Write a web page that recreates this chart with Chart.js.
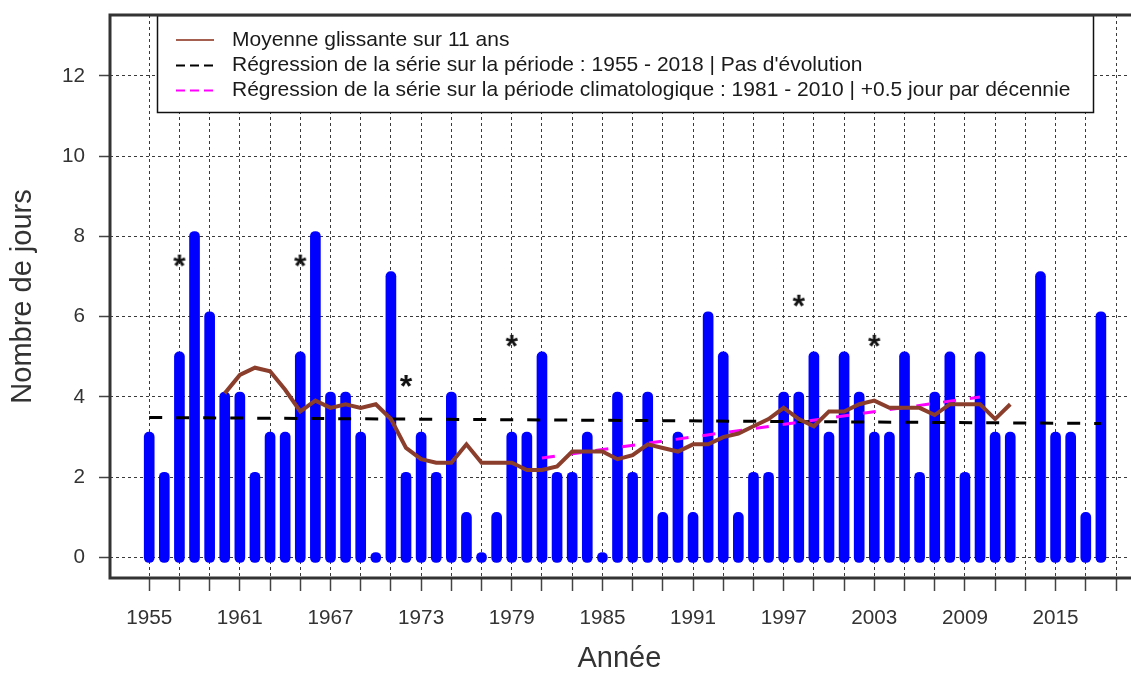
<!DOCTYPE html>
<html><head><meta charset="utf-8">
<script src="https://cdn.jsdelivr.net/npm/chart.js@4.4.1/dist/chart.umd.min.js"></script>
<style>html,body{margin:0;padding:0;background:#fff;overflow:hidden}#w{width:1131px;height:673px;position:relative}</style>
</head><body><div id="w"><canvas id="c"></canvas></div>
<script>
// ---- Data ----
const years = [1955,1956,1957,1958,1959,1960,1961,1962,1963,1964,1965,1966,1967,1968,1969,1970,1971,1972,1973,1974,1975,1976,1977,1978,1979,1980,1981,1982,1983,1984,1985,1986,1987,1988,1989,1990,1991,1992,1993,1994,1995,1996,1997,1998,1999,2000,2001,2002,2003,2004,2005,2006,2007,2008,2009,2010,2011,2012,2013,2014,2015,2016,2017,2018];
const jours = [3,2,5,8,6,4,4,2,3,3,5,8,4,4,3,0,7,2,3,2,4,1,0,1,3,3,5,2,2,3,0,4,2,4,1,3,1,6,5,1,2,2,4,4,5,3,5,4,3,3,5,2,4,5,2,5,3,3,null,7,3,3,1,6];
const maYears = [1960,1961,1962,1963,1964,1965,1966,1967,1968,1969,1970,1971,1972,1973,1974,1975,1976,1977,1978,1979,1980,1981,1982,1983,1984,1985,1986,1987,1988,1989,1990,1991,1992,1993,1994,1995,1996,1997,1998,1999,2000,2001,2002,2003,2004,2005,2006,2007,2008,2009,2010,2011,2012];
const maValues = [4.09,4.55,4.73,4.64,4.18,3.64,3.91,3.73,3.82,3.73,3.82,3.45,2.73,2.45,2.36,2.36,2.82,2.36,2.36,2.36,2.18,2.18,2.27,2.64,2.64,2.64,2.45,2.55,2.82,2.73,2.64,2.82,2.82,3.00,3.09,3.27,3.45,3.73,3.45,3.27,3.64,3.64,3.82,3.91,3.73,3.73,3.73,3.55,3.82,3.82,3.82,3.45,3.82];
const regAllYears = [1955, 2018];
const regAllValues = [3.49, 3.34];
const regClimYears = [1981, 2010];
const regClimValues = [2.48, 4.00];
const starYears = [1957, 1965, 1972, 1979, 1998, 2003];
const starValues = [7.4, 7.4, 4.4, 5.4, 6.4, 5.4];
const xTickYears = [1955,1957,1959,1961,1963,1965,1967,1969,1971,1973,1975,1977,1979,1981,1983,1985,1987,1989,1991,1993,1995,1997,1999,2001,2003,2005,2007,2009,2011,2013,2015,2017,2019];
const xLabelYears = [1955,1961,1967,1973,1979,1985,1991,1997,2003,2009,2015];
const yTicks = [0,2,4,6,8,10,12];
const legendLabels = [
  "Moyenne glissante sur 11 ans",
  "Régression de la série sur la période : 1955 - 2018 | Pas d'évolution",
  "Régression de la série sur la période climatologique : 1981 - 2010 | +0.5 jour par décennie"
];

// ---- Style ----
const FONT = "'Liberation Sans', Arial, sans-serif";
const BROWN = '#8B3E2C';
const CAP = 0.125; // round-cap extension (in y units) of the thick bar strokes

const starImg = (() => {
  const c = document.createElement('canvas'); c.width = 28; c.height = 28;
  const g = c.getContext('2d');
  g.font = 'bold 32px ' + FONT; g.fillStyle = '#111'; g.textAlign = 'center'; g.textBaseline = 'alphabetic';
  const m = g.measureText('*');
  g.fillText('*', 14, 14 + (m.actualBoundingBoxAscent - m.actualBoundingBoxDescent) / 2);
  return c;
})();

const legendPlugin = {
  id: 'legendBox',
  afterDatasetsDraw(chart) {
    const ctx = chart.ctx;
    ctx.save();
    ctx.fillStyle = '#fff';
    ctx.fillRect(157, 15, 937, 98);
    ctx.strokeStyle = '#111'; ctx.lineWidth = 1.5;
    ctx.strokeRect(157.5, 15.5, 936, 97);
    const rows = [40, 65.5, 90.5];
    const styles = [
      {c: '#a5604f', d: []},
      {c: '#000', d: [9, 5]},
      {c: '#ff00ff', d: [9, 5]}
    ];
    rows.forEach((y, i) => {
      ctx.beginPath();
      ctx.setLineDash(styles[i].d);
      ctx.strokeStyle = styles[i].c; ctx.lineWidth = 2;
      ctx.moveTo(176, y); ctx.lineTo(214, y); ctx.stroke();
      ctx.setLineDash([]);
      ctx.fillStyle = '#1a1a1a';
      ctx.font = '21px ' + FONT;
      ctx.textBaseline = 'middle'; ctx.textAlign = 'left';
      ctx.fillText(legendLabels[i], 232, y);
    });
    ctx.restore();
  }
};

const framePlugin = {
  id: 'frame',
  afterDraw(chart) {
    const {left, top, right, bottom} = chart.chartArea;
    const ctx = chart.ctx;
    ctx.save();
    ctx.strokeStyle = '#333'; ctx.lineWidth = 3; ctx.setLineDash([]);
    ctx.beginPath();
    ctx.moveTo(right + 5, top); ctx.lineTo(left, top); ctx.lineTo(left, bottom); ctx.lineTo(right + 5, bottom);
    ctx.stroke();
    ctx.restore();
  }
};

const barData = [];
years.forEach((y, i) => { if (jours[i] !== null) barData.push({x: y, y: [0 - CAP, jours[i] + CAP]}); });

new Chart(document.getElementById('c'), {
  data: {
    datasets: [
      {type: 'bar', data: barData, backgroundColor: '#0000ff', barThickness: 10, borderRadius: 5, borderSkipped: false, order: 5},
      {type: 'line', data: regAllYears.map((x, i) => ({x, y: regAllValues[i]})), borderColor: '#000', borderWidth: 3, borderDash: [13, 14], pointRadius: 0, fill: false, order: 4},
      {type: 'line', data: regClimYears.map((x, i) => ({x, y: regClimValues[i]})), borderColor: '#ff00ff', borderWidth: 3, borderDash: [13, 14], pointRadius: 0, fill: false, order: 3},
      {type: 'line', data: maYears.map((x, i) => ({x, y: maValues[i]})), borderColor: BROWN, borderWidth: 4, pointRadius: 0, tension: 0, fill: false, order: 2},
      {type: 'scatter', data: starYears.map((x, i) => ({x, y: starValues[i]})), pointStyle: starImg, pointRadius: 8, order: 1}
    ]
  },
  options: {
    responsive: true, maintainAspectRatio: false, animation: false, devicePixelRatio: 1,
    layout: {autoPadding: false, padding: {top: 15, right: 0, left: 0, bottom: 0}},
    plugins: {legend: {display: false}, tooltip: {enabled: false}},
    scales: {
      x: {
        type: 'linear', position: 'bottom', min: 1952.404, max: 2019.839, offset: false,
        afterBuildTicks: s => { s.ticks = xTickYears.map(v => ({value: v})); },
        afterFit: s => { s.height = 95; s.paddingTop = 0; s.paddingBottom = 0; },
        ticks: {autoSkip: false, maxRotation: 0, minRotation: 0, padding: 15, color: '#333',
          font: {family: FONT, size: 20.7},
          callback: v => xLabelYears.includes(v) ? String(v) : ''},
        grid: {offset: false, color: '#3a3a3a', lineWidth: 1, tickLength: 13, tickColor: '#444', tickWidth: 1.5, tickBorderDash: []},
        border: {display: false, dash: [3, 3]},
        title: {display: true, text: 'Année', color: '#333', font: {family: FONT, size: 29, lineHeight: 1}, padding: {top: 0, bottom: 0}}
      },
      y: {
        type: 'linear', position: 'left', min: -0.511, max: 13.52,
        afterBuildTicks: s => { s.ticks = yTicks.map(v => ({value: v})); },
        afterFit: s => { s.width = 110; s.paddingTop = 0; s.paddingBottom = 0; },
        ticks: {padding: 14, color: '#333', font: {family: FONT, size: 20.7}, callback: v => String(v)},
        grid: {color: '#3a3a3a', lineWidth: 1, tickLength: 11, tickColor: '#444', tickWidth: 1.5, tickBorderDash: []},
        border: {display: false, dash: [3, 3]},
        title: {display: true, text: 'Nombre de jours', color: '#333', font: {family: FONT, size: 29, lineHeight: 1}, padding: {top: 8, bottom: 0}}
      }
    }
  },
  plugins: [legendPlugin, framePlugin]
});
</script>
</body></html>
